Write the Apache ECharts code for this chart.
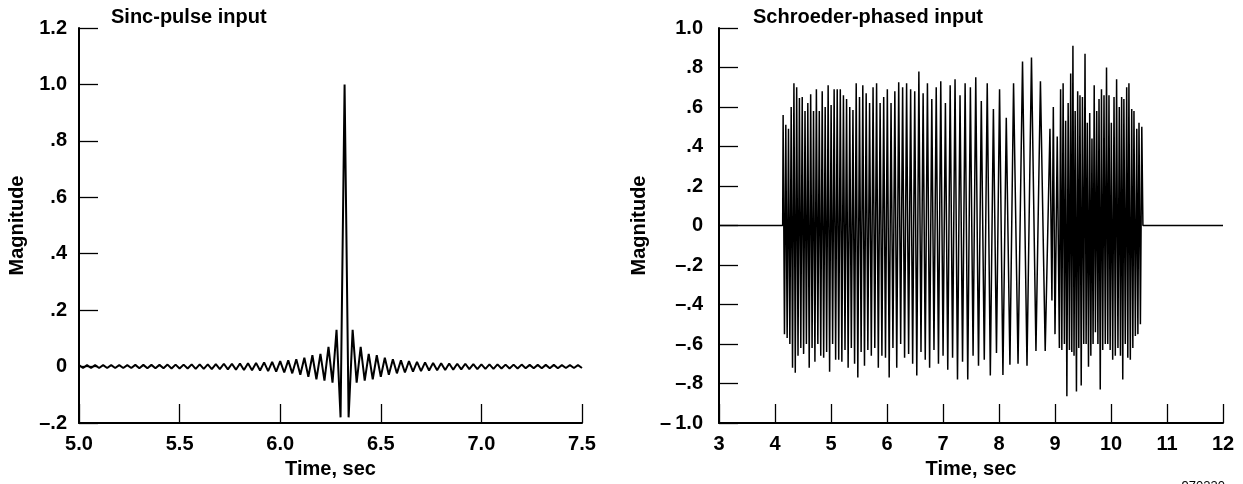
<!DOCTYPE html>
<html><head><meta charset="utf-8">
<script src="https://cdn.jsdelivr.net/npm/echarts@6/dist/echarts.min.js"></script>
<style>html,body{margin:0;padding:0;background:#fff}#c{width:1243px;height:484px}</style>
</head><body><div id="c"></div>
<script>
// ---- Sinc-pulse input (sampled) ----
const sincTimes = [5.00,5.02,5.04,5.06,5.08,5.10,5.12,5.14,5.16,5.18,5.20,5.22,5.24,5.26,5.28,5.30,5.32,5.34,5.36,5.38,5.40,5.42,5.44,5.46,5.48,5.50,5.52,5.54,5.56,5.58,5.60,5.62,5.64,5.66,5.68,5.70,5.72,5.74,5.76,5.78,5.80,5.82,5.84,5.86,5.88,5.90,5.92,5.94,5.96,5.98,6.00,6.02,6.04,6.06,6.08,6.10,6.12,6.14,6.16,6.18,6.20,6.22,6.24,6.26,6.28,6.30,6.32,6.34,6.36,6.38,6.40,6.42,6.44,6.46,6.48,6.50,6.52,6.54,6.56,6.58,6.60,6.62,6.64,6.66,6.68,6.70,6.72,6.74,6.76,6.78,6.80,6.82,6.84,6.86,6.88,6.90,6.92,6.94,6.96,6.98,7.00,7.02,7.04,7.06,7.08,7.10,7.12,7.14,7.16,7.18,7.20,7.22,7.24,7.26,7.28,7.30,7.32,7.34,7.36,7.38,7.40,7.42,7.44,7.46,7.48,7.50];
const sincValues = [.005,-.005,.005,-.005,.005,-.005,.005,-.005,.005,-.005,.005,-.005,.005,-.005,.006,-.006,.006,-.006,.006,-.006,.006,-.006,.007,-.007,.007,-.007,.007,-.007,.008,-.008,.008,-.008,.008,-.009,.009,-.009,.010,-.010,.010,-.011,.011,-.012,.012,-.013,.013,-.014,.015,-.016,.017,-.018,.019,-.021,.022,-.024,.026,-.029,.031,-.036,.040,-.045,.045,-.050,.070,-.057,.130,-.180,
1.000,
-.180,.130,-.057,.070,-.050,.045,-.045,.040,-.036,.031,-.029,.026,-.024,.022,-.021,.019,-.018,.017,-.016,.015,-.014,.013,-.013,.012,-.012,.011,-.011,.010,-.010,.010,-.009,.009,-.009,.008,-.008,.008,-.008,.008,-.007,.007,-.007,.007,-.007,.007,-.006,.006,-.006,.006,-.006,.006,-.006,.006,-.006,.005,-.005,.005,-.005,.005,-.005];

// ---- Schroeder-phased input (peaks and troughs) ----
const schTimes = [3,4.137,
4.145,4.169,4.193,4.217,4.241,4.265,4.289,4.313,4.338,4.362,4.387,4.411,4.436,4.461,4.486,4.511,4.536,4.561,4.586,4.611,4.637,4.662,4.688,4.713,4.739,4.765,4.791,4.817,4.843,4.869,4.896,4.922,4.949,4.975,5.002,5.029,5.056,5.083,5.111,5.138,5.166,5.194,5.222,5.250,5.278,5.306,5.335,5.363,5.392,5.421,5.450,5.479,5.509,5.538,5.568,5.598,5.628,5.658,5.689,5.720,5.751,5.782,5.814,5.845,5.877,5.909,5.941,5.973,6.006,6.039,6.072,6.106,6.140,6.174,6.209,6.244,6.279,6.314,6.350,6.386,6.422,6.458,6.495,6.532,6.569,6.607,6.645,6.683,6.722,6.761,6.800,6.839,6.879,6.919,6.960,7.001,7.043,7.085,7.128,7.171,7.215,7.259,7.304,7.349,7.395,7.442,7.489,7.537,7.585,7.634,7.684,7.737,7.79,7.845,7.90,7.955,8.01,8.07,8.13,8.195,8.26,8.34,8.42,8.50,8.58,8.66,8.74,8.825,8.91,
8.945,8.97,9.00,9.04,9.078,
9.10,9.122,9.145,9.168,9.19,9.212,9.235,9.258,9.28,9.30,9.32,9.34,9.36,9.383,9.405,9.425,9.446,9.468,9.49,9.513,9.536,9.556,9.577,9.598,9.62,9.64,9.66,9.68,9.70,9.722,9.745,9.766,9.786,9.808,9.83,9.852,9.875,9.898,9.92,9.942,9.964,9.985,10.006,10.03,10.054,10.077,10.10,10.124,10.148,10.169,10.19,10.21,10.23,10.255,10.28,10.30,10.32,10.345,10.37,10.39,10.41,10.435,10.46,10.48,10.50,10.525,10.55,
10.57,12];
const schValues = [0,0,
.56,-.55,.51,-.57,.49,-.60,.60,-.72,.72,-.745,.70,-.66,.645,-.62,.65,-.65,.58,-.60,.62,-.72,.665,-.62,.58,-.69,.69,-.60,.58,-.66,.68,-.67,.60,-.64,.71,-.74,.61,-.60,.69,-.68,.69,-.68,.69,-.69,.66,-.63,.64,-.72,.60,-.62,.585,-.70,.72,-.77,.65,-.64,.71,-.71,.67,-.63,.62,-.66,.70,-.62,.72,-.72,.62,-.66,.65,-.67,.69,-.77,.62,-.62,.68,-.72,.725,-.60,.70,-.67,.72,-.65,.69,-.70,.68,-.76,.78,-.64,.67,-.68,.72,-.72,.64,-.63,.70,-.70,.73,-.66,.62,-.73,.71,-.67,.74,-.78,.66,-.69,.72,-.78,.70,-.66,.75,-.71,.63,-.68,.72,-.76,.59,-.645,.69,-.757,.545,-.705,.72,-.70,.83,-.71,.85,-.635,.73,-.635,.49,
-.38,.60,-.55,.45,-.62,
.69,-.63,.72,-.60,.53,-.865,.62,-.63,.77,-.64,.91,-.66,.58,-.84,.68,-.62,.66,-.81,.65,-.60,.87,-.60,.52,-.715,.57,-.66,.44,-.60,.71,-.54,.58,-.60,.64,-.83,.69,-.63,.66,-.60,.80,-.60,.66,-.63,.52,-.68,.65,-.66,.74,-.62,.60,-.66,.65,-.78,.64,-.60,.70,-.67,.72,-.68,.59,-.62,.58,-.56,.49,-.55,.52,-.50,.50,
0,0];

// ---- tick labels ----
const leftYTicks = [-0.2,0,0.2,0.4,0.6,0.8,1.0,1.2];
const leftYLabels = ['\u2013.2','0','.2','.4','.6','.8','1.0','1.2'];
const rightYTicks = [-1.0,-0.8,-0.6,-0.4,-0.2,0,0.2,0.4,0.6,0.8,1.0];
const rightYLabels = ['\u2013\u20091.0','\u2013.8','\u2013.6','\u2013.4','\u2013.2','0','.2','.4','.6','.8','1.0'];
const leftXTicks = [5.0,5.5,6.0,6.5,7.0,7.5];
const leftXLabels = ['5.0','5.5','6.0','6.5','7.0','7.5'];
const rightXTicks = [3,4,5,6,7,8,9,10,11,12];
const rightXLabels = ['3','4','5','6','7','8','9','10','11','12'];

function pairs(xs, ys){ const n=Math.min(xs.length, ys.length); const out=[]; for(let i=0;i<n;i++) out.push([xs[i], ys[i]]); return out; }
function lookup(ticks, labels){ return function(v){ for(let i=0;i<ticks.length;i++){ if(Math.abs(ticks[i]-v)<1e-6) return labels[i]; } return ''; }; }

const FONT = "'Liberation Sans', Arial, Helvetica, sans-serif";
const txt = {fontFamily: FONT, fontWeight: 'bold', fontSize: 20, color: '#000'};

function xAxis(idx, min, max, interval, ticks, labels){
  return {type:'value', gridIndex: idx, min:min, max:max, interval:interval,
    name:'Time, sec', nameLocation:'middle', nameGap:36,
    nameTextStyle: Object.assign({}, txt),
    axisLine:{show:true, onZero:false, lineStyle:{color:'#000', width:2}},
    axisTick:{show:true, inside:true, length:19, lineStyle:{color:'#000', width:1.3}},
    axisLabel: Object.assign({margin:11, formatter: lookup(ticks, labels), showMinLabel:true, showMaxLabel:true}, txt),
    splitLine:{show:false}};
}
function yAxis(idx, min, max, interval, ticks, labels, gap, lm){
  return {type:'value', gridIndex: idx, min:min, max:max, interval:interval,
    name:'Magnitude', nameLocation:'middle', nameGap:gap, nameRotate:90,
    nameTextStyle: Object.assign({}, txt),
    axisLine:{show:true, onZero:false, lineStyle:{color:'#000', width:2}},
    axisTick:{show:true, inside:true, length:19, lineStyle:{color:'#000', width:1.3}},
    axisLabel: Object.assign({margin:lm, formatter: lookup(ticks, labels), showMinLabel:true, showMaxLabel:true}, txt),
    splitLine:{show:false}};
}

const chart = echarts.init(document.getElementById('c'), null, {renderer:'canvas'});
chart.setOption({
  animation:false,
  backgroundColor:'#fff',
  title:[
    {text:'Sinc-pulse input', left:111, top:7, padding:0, textStyle:Object.assign({}, txt)},
    {text:'Schroeder-phased input', left:753, top:7, padding:0, textStyle:Object.assign({}, txt)}
  ],
  grid:[
    {left:79, top:28, width:503, height:395},
    {left:719, top:28, width:504, height:395}
  ],
  xAxis:[ xAxis(0, 5.0, 7.5, 0.5, leftXTicks, leftXLabels), xAxis(1, 3, 12, 1, rightXTicks, rightXLabels) ],
  yAxis:[ yAxis(0, -0.2, 1.2, 0.2, leftYTicks, leftYLabels, 52, 12), yAxis(1, -1.0, 1.0, 0.2, rightYTicks, rightYLabels, 70, 16) ],
  series:[
    {type:'line', xAxisIndex:0, yAxisIndex:0, data:pairs(sincTimes, sincValues), showSymbol:false, symbol:'none',
     lineStyle:{color:'#000', width:2}, silent:true, clip:true},
    {type:'line', xAxisIndex:1, yAxisIndex:1, data:pairs(schTimes, schValues), showSymbol:false, symbol:'none',
     lineStyle:{color:'#000', width:1.5}, silent:true, clip:true}
  ],
  graphic:[
    {type:'text', right:18, top:480, style:{text:'970230', font:"13px 'Liberation Sans', Arial, sans-serif", fill:'#000'}}
  ]
});
</script>
</body></html>
